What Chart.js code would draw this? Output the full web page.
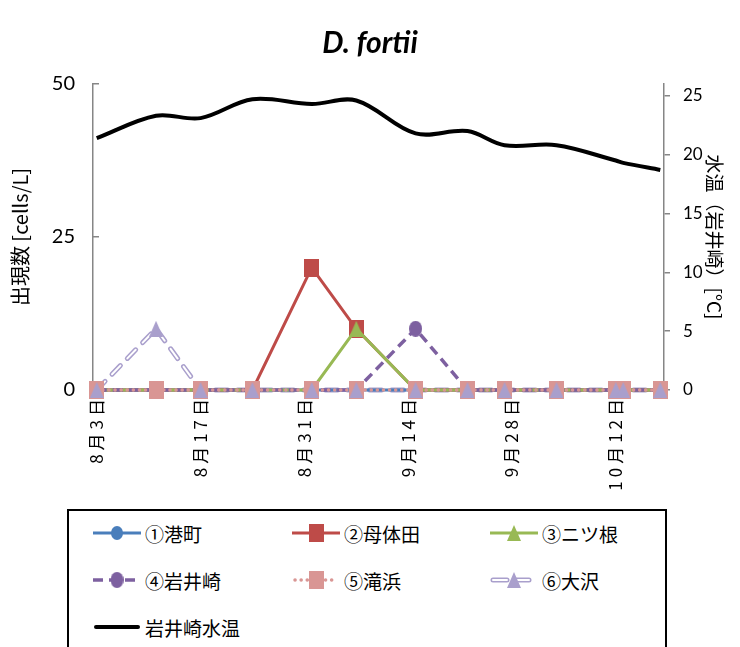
<!DOCTYPE html>
<html>
<head>
<meta charset="utf-8">
<script src="https://cdn.jsdelivr.net/npm/chart.js@4"></script>
<style>
    html, body { margin: 0; padding: 0; background: #fff; overflow: hidden; }
    #wrap { position: relative; width: 740px; height: 647px; }
    #chart { position: absolute; left: 0; top: 0; }
    #legend { position: absolute; left: 67px; top: 509px; width: 600px; height: 170px;
              border: 2px solid #000; box-sizing: border-box; }
    .item { position: absolute; height: 26px; display: flex; align-items: center;
            font: 19px "Noto Sans CJK JP"; color: #000; white-space: nowrap; }
    .item canvas { margin-right: 4px; }
</style>
</head>
<body>
<div id="wrap">
    <canvas id="chart" width="740" height="505"></canvas>
    <div id="legend"></div>
</div>
<script>
// days counted from Aug 3
const sampleDays = [0, 8, 14, 21, 29, 35, 43, 50, 55, 62, 70, 71, 76];
const tickDays = [0, 14, 28, 42, 56, 70];
const tickLabels = ["8月3日", "8月17日", "8月31日", "9月14日", "9月28日", "10月12日"];
const countTicks = [0, 25, 50];
const tempTicks = [0, 5, 10, 15, 20, 25];

const seriesNames = ["①港町", "②母体田", "③ニツ根", "④岩井崎", "⑤滝浜", "⑥大沢", "岩井崎水温"];
const minatomachi = [0, 0, 0, 0, 0, 0, 0, 0, 0, 0, 0, 0, 0];
const motaida    = [0, 0, 0, 0, 20, 10, 0, 0, 0, 0, 0, 0, 0];
const futatsune  = [0, 0, 0, 0, 0, 10, 0, 0, 0, 0, 0, 0, 0];
const iwaisaki   = [0, 0, 0, 0, 0, 0, 10, 0, 0, 0, 0, 0, 0];
const takihama   = [0, 0, 0, 0, 0, 0, 0, 0, 0, 0, 0, 0, 0];
const osawa      = [0, 10, 0, 0, 0, 0, 0, 0, 0, 0, 0, 0, 0];
const waterTemp  = [21.4, 23.3, 23.1, 24.7, 24.3, 24.6, 21.8, 22.0, 20.8, 20.8, 19.5, 19.3, 18.7];

const styles = [
    { color: "#4A7EBB", dash: [], width: 3, cap: "butt", shape: "ellipse", w: 12, h: 14 },
    { color: "#BE4B48", dash: [], width: 3, cap: "butt", shape: "rect", w: 15, h: 18 },
    { color: "#98B954", dash: [], width: 3, cap: "butt", shape: "triangle", w: 14, h: 16 },
    { color: "#7D60A0", dash: [10, 6], width: 3.5, cap: "butt", shape: "ellipse", w: 13, h: 16 },
    { color: "#D99694", dash: [0.1, 6], width: 3.5, cap: "round", shape: "rect", w: 15, h: 18 },
    { color: "#A99FCC", dash: [12, 10], width: 5, cap: "round", shape: "triangle", w: 14, h: 16, hollow: true },
    { color: "#000000", dash: [], width: 4, cap: "round" }
];
const seriesValues = [minatomachi, motaida, futatsune, iwaisaki, takihama, osawa];

function marker(st) {
    const c = document.createElement("canvas");
    c.width = st.w; c.height = st.h;
    const g = c.getContext("2d");
    g.fillStyle = st.color;
    g.beginPath();
    if (st.shape === "rect") g.rect(0, 0, st.w, st.h);
    else if (st.shape === "ellipse") g.ellipse(st.w / 2, st.h / 2, st.w / 2, st.h / 2, 0, 0, Math.PI * 2);
    else { g.moveTo(st.w / 2, 0); g.lineTo(st.w, st.h); g.lineTo(0, st.h); g.closePath(); }
    g.fill();
    return c;
}

const points = vals => vals.map((v, i) => ({ x: sampleDays[i], y: v }));

const datasets = [];
// drawing order: lower "order" is drawn on top
seriesValues.forEach((vals, i) => {
    const st = styles[i];
    if (st.hollow) {
        datasets.push({ data: points(vals), borderColor: st.color, borderWidth: st.width, borderDash: st.dash,
            borderCapStyle: st.cap, pointRadius: 0, order: 20, clip: false });
        datasets.push({ data: points(vals), borderColor: "#ffffff", borderWidth: 2, borderDash: st.dash,
            borderCapStyle: st.cap, pointRadius: 0, order: 19, clip: false });
        datasets.push({ label: seriesNames[i], data: points(vals), showLine: false,
            pointStyle: marker(st), order: 2, clip: false });
    } else {
        datasets.push({ label: seriesNames[i], data: points(vals), borderColor: st.color, borderWidth: st.width,
            borderDash: st.dash, borderCapStyle: st.cap, pointStyle: marker(st), order: 10 - i, clip: false });
    }
});
datasets.push({ label: seriesNames[6], data: points(waterTemp), yAxisID: "y2", borderColor: "#000",
    borderWidth: 4, pointRadius: 0, tension: 0.35, order: 1, clip: false });

const axisGray = "#868686";

// wider spacing for the rotated date labels, as Excel draws them
const spacedDates = {
    id: "spacedDates",
    beforeDraw(chart) {
        const xs = chart.scales.x;
        if (xs._spaced) return;
        const orig = xs.drawLabels;
        xs.drawLabels = function (area) {
            const c = this.ctx;
            c.save();
            c.letterSpacing = "4px";
            orig.call(this, area);
            c.restore();
        };
        xs._spaced = true;
    }
};

chart = new Chart(document.getElementById("chart").getContext("2d"), {
    type: "line",
    data: { datasets: datasets },
    plugins: [spacedDates],
    options: {
        animation: false,
        responsive: false,
        layout: { padding: 0 },
        plugins: {
            legend: { display: false },
            tooltip: { enabled: false },
            title: {
                display: true,
                text: "D. fortii",
                color: "#000",
                font: { family: "Lato", size: 30, weight: "bold", style: "italic" },
                padding: { top: 25, bottom: 23 }
            }
        },
        scales: {
            x: {
                type: "linear",
                min: -0.5,
                max: 76.5,
                afterBuildTicks: s => { s.ticks = tickDays.map(v => ({ value: v })); },
                afterFit: s => { s.height = 115; },
                ticks: {
                    callback: v => tickLabels[tickDays.indexOf(v)],
                    autoSkip: false, maxRotation: 90, minRotation: 90, padding: 5,
                    color: "#000", font: { family: "Noto Sans CJK JP", size: 17 }
                },
                grid: { drawOnChartArea: false, drawTicks: false },
                border: { color: axisGray, width: 1.5 }
            },
            y: {
                position: "left",
                min: 0,
                max: 50,
                afterBuildTicks: s => { s.ticks = countTicks.map(v => ({ value: v })); },
                afterFit: s => { s.width = 93; },
                ticks: { padding: 24, color: "#000", font: { family: "Lato", size: 20 } },
                grid: { drawOnChartArea: false, tickLength: -6, color: axisGray, lineWidth: 1.5 },
                border: { color: axisGray, width: 1.5 },
                title: {
                    display: true, text: "出現数 [cells/L]", color: "#000",
                    font: { family: "Noto Sans CJK JP", size: 20 }, padding: { top: 8, bottom: 0 }
                }
            },
            y2: {
                position: "right",
                min: 0,
                max: 26,
                afterBuildTicks: s => { s.ticks = tempTicks.map(v => ({ value: v })); },
                afterFit: s => { s.width = 76; },
                ticks: { padding: 13, color: "#000", font: { family: "Lato", size: 17 } },
                grid: { drawOnChartArea: false, tickLength: 6, color: axisGray, lineWidth: 1.5 },
                border: { color: axisGray, width: 1.5 },
                title: {
                    display: true, text: "水温（岩井崎）[°C]", color: "#000",
                    font: { family: "Noto Sans CJK JP", size: 19 }, padding: { top: 14, bottom: 0 }
                }
            }
        }
    }
});

// legend, 3 columns like the original
const colSample = [93, 292, 490];
const rowCenter = [533, 580, 627];
const legend = document.getElementById("legend");
seriesNames.forEach((name, i) => {
    const st = styles[i];
    const item = document.createElement("div");
    item.className = "item";
    item.style.left = (colSample[i % 3] - 69) + "px";
    item.style.top = (rowCenter[Math.floor(i / 3)] - 13 - 511) + "px";
    const c = document.createElement("canvas");
    c.width = 48; c.height = 26;
    const g = c.getContext("2d");
    const dash = st.hollow ? [14, 8] : st.dash;
    const drawLine = (color, width) => {
        g.strokeStyle = color; g.lineWidth = width; g.lineCap = st.cap;
        g.setLineDash(dash);
        g.beginPath(); g.moveTo(st.cap === "round" ? 3 : 0, 13); g.lineTo(st.cap === "round" ? 45 : 48, 13); g.stroke();
    };
    drawLine(st.color, st.width);
    if (st.hollow) drawLine("#fff", 2);
    if (st.shape) {
        const m = marker(st);
        g.drawImage(m, 24 - st.w / 2, 13 - st.h / 2);
    }
    item.appendChild(c);
    item.appendChild(document.createTextNode(name));
    legend.appendChild(item);
});
</script>
</body>
</html>
